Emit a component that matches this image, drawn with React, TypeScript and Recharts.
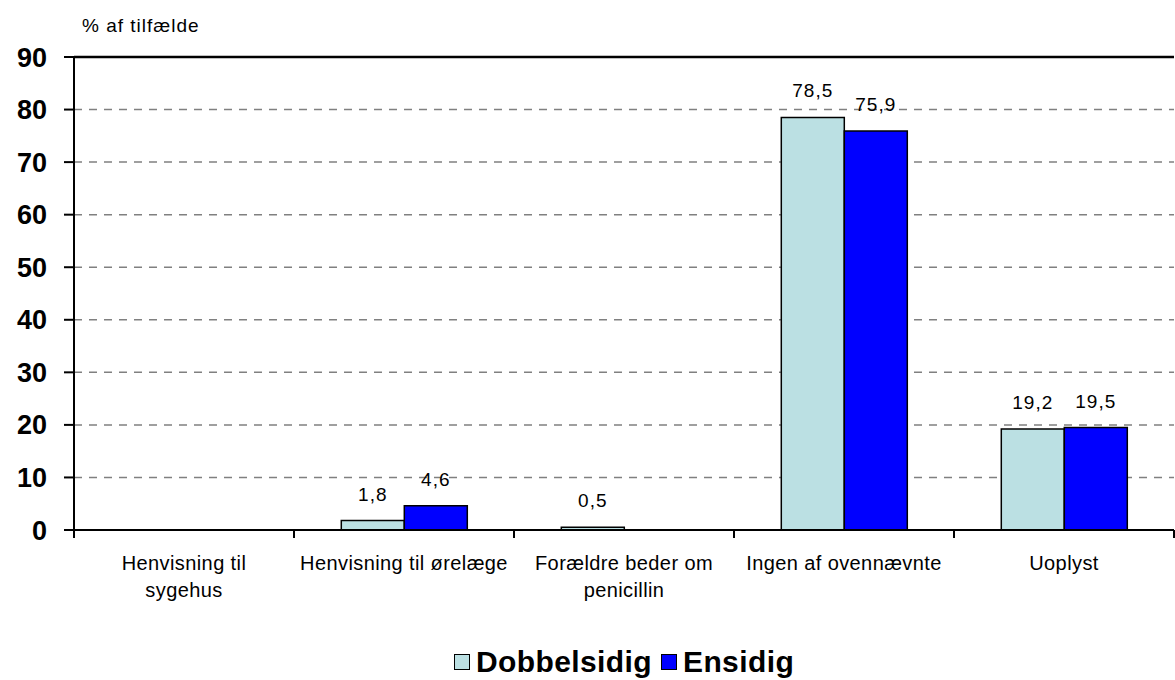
import React from 'react';
import { BarChart, Bar, XAxis, YAxis, CartesianGrid, ReferenceLine, LabelList } from 'recharts';

const categories = [
  'Henvisning til\nsygehus',
  'Henvisning til ørelæge',
  'Forældre beder om\npenicillin',
  'Ingen af ovennævnte',
  'Uoplyst',
];
const dobbelsidig = [0, 1.8, 0.5, 78.5, 19.2];
const ensidig = [0, 4.6, 0, 75.9, 19.5];
const yTicks = [0, 10, 20, 30, 40, 50, 60, 70, 80, 90];
const seriesNames = ['Dobbelsidig', 'Ensidig'];

const data = categories.map((name, i) => ({
  name,
  d: dobbelsidig[i],
  e: ensidig[i],
}));

const FONT = '"Liberation Sans", Arial, sans-serif';
const LIGHT = '#BBE0E3';
const DARK = '#0000FF';
const W = 1175;
const H = 620;
const M = { top: 57, right: 1, left: 0, bottom: 60 };
const Y_W = 74;
const BAND = (W - Y_W - M.right) / categories.length;

const fmt = (v: any) => (v ? String(v).replace('.', ',') : '');

function XTick(props: any) {
  const { x, y, payload, index } = props;
  const lines = String(payload.value).split('\n');
  return (
    <g>
      <line x1={x - BAND / 2} x2={x - BAND / 2} y1={y} y2={y + 8} stroke="#000" strokeWidth={2} />
      {index === categories.length - 1 && (
        <line x1={x + BAND / 2} x2={x + BAND / 2} y1={y} y2={y + 8} stroke="#000" strokeWidth={2} />
      )}
      <text x={x} y={y + 40} textAnchor="middle" fontFamily={FONT} fontSize={20} letterSpacing={0.4} fill="#000">
        {lines.map((l, i) => (
          <tspan key={i} x={x} dy={i === 0 ? 0 : 27}>
            {l}
          </tspan>
        ))}
      </text>
    </g>
  );
}

export default function App() {
  return (
    <div style={{ position: 'absolute', left: 0, top: 0, width: W, height: 680, background: '#fff', fontFamily: FONT }}>
      <div style={{ position: 'absolute', left: 82, top: 15, fontSize: 19, letterSpacing: 1, color: '#000' }}>
        % af tilfælde
      </div>
      <BarChart width={W} height={H} data={data} margin={M} barCategoryGap="21.5%" barGap={0}>
        <CartesianGrid vertical={false} stroke="#808080" strokeWidth={1.5} strokeDasharray="8 7" />
        <XAxis
          dataKey="name"
          tick={<XTick />}
          tickLine={false}
          tickSize={0}
          tickMargin={0}
          interval={0}
          height={30}
          axisLine={{ stroke: '#000', strokeWidth: 2 }}
        />
        <YAxis
          width={Y_W}
          domain={[0, 90]}
          ticks={yTicks}
          interval={0}
          tickSize={10}
          tickMargin={17}
          axisLine={{ stroke: '#000', strokeWidth: 2 }}
          tickLine={{ stroke: '#000', strokeWidth: 2 }}
          tick={{ fontFamily: FONT, fontSize: 27, fontWeight: 'bold', fill: '#000' }}
        />
        <ReferenceLine y={90} stroke="#000" strokeWidth={2.5} />
        <Bar dataKey="d" name={seriesNames[0]} fill={LIGHT} stroke="#000" strokeWidth={1.5} isAnimationActive={false}>
          <LabelList
            dataKey="d"
            position="top"
            offset={20}
            formatter={fmt}
            fill="#000"
            fontFamily={FONT}
            fontSize={19}
            letterSpacing={1}
          />
        </Bar>
        <Bar dataKey="e" name={seriesNames[1]} fill={DARK} stroke="#000" strokeWidth={1.5} isAnimationActive={false}>
          <LabelList
            dataKey="e"
            position="top"
            offset={20}
            formatter={fmt}
            fill="#000"
            fontFamily={FONT}
            fontSize={19}
            letterSpacing={1}
          />
        </Bar>
      </BarChart>
      <div
        style={{
          position: 'absolute',
          left: Y_W,
          width: W - Y_W - M.right,
          top: 645,
          display: 'flex',
          justifyContent: 'center',
          alignItems: 'center',
          gap: 9,
          fontSize: 30,
          fontWeight: 'bold',
          letterSpacing: 0.4,
          color: '#000',
        }}
      >
        {seriesNames.map((n, i) => (
          <span key={n} style={{ display: 'flex', alignItems: 'center', gap: 6 }}>
            <span
              style={{
                width: 14,
                height: 14,
                background: i === 0 ? LIGHT : DARK,
                border: '1.5px solid #000',
                display: 'inline-block',
              }}
            />
            {n}
          </span>
        ))}
      </div>
    </div>
  );
}
